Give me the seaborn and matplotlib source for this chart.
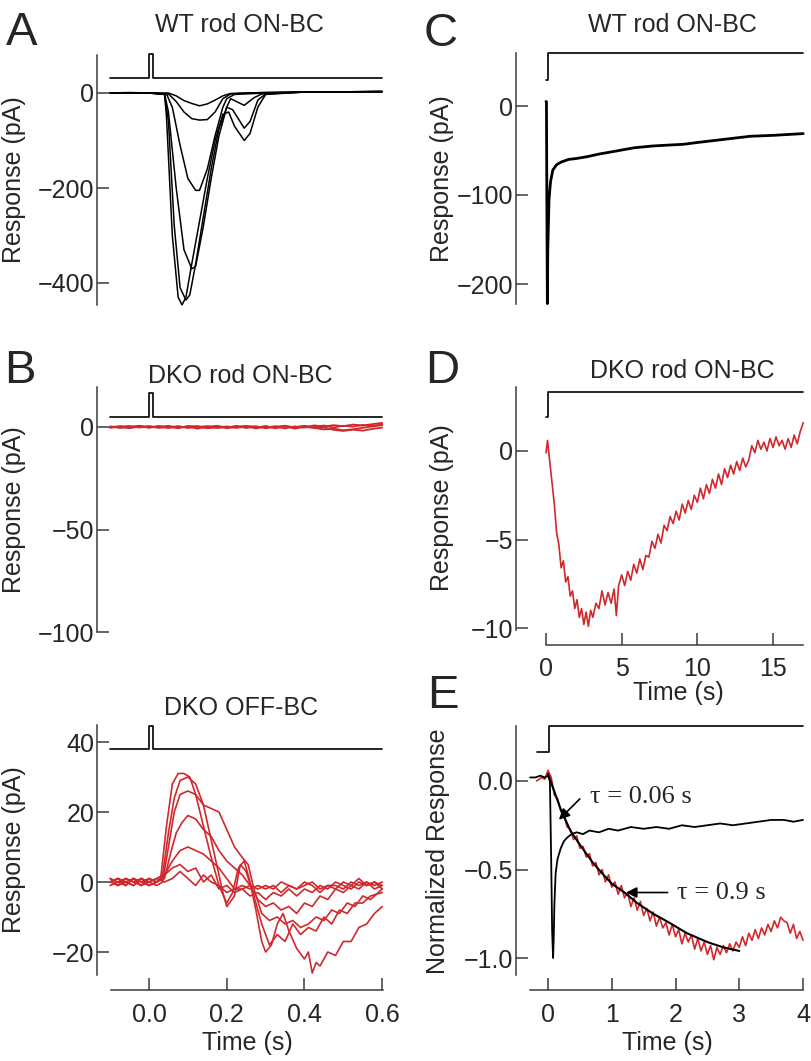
import numpy as np
import pandas as pd
import matplotlib
matplotlib.use('Agg')
import matplotlib.pyplot as plt
import seaborn as sns

W, H = 811, 1061
RED = '#d0282c'
AXC = '#3a3a3a'

# ---- Panel A: WT rod ON-BC flash responses (pA) ----
stim_t = [-0.1, 0.0, 0.0, 0.011, 0.011, 0.6]
a_stim = [32, 32, 82, 82, 32, 32]
a1_t = [-0.1, -0.05, 0.0, 0.05, 0.07, 0.09, 0.11, 0.13, 0.15, 0.17, 0.19, 0.21, 0.25, 0.3, 0.4, 0.5, 0.6]
a1_v = [0, 1, 0, 0, -6, -16, -22, -27, -23, -15, -6, -1, 0, 1, 2, 2, 3]
a2_t = [-0.1, 0.0, 0.05, 0.07, 0.09, 0.11, 0.13, 0.15, 0.17, 0.19, 0.21, 0.25, 0.3, 0.4, 0.6]
a2_v = [0, 0, -2, -18, -40, -54, -57, -56, -40, -12, -2, 0, 1, 2, 3]
a3_t = [-0.1, 0.0, 0.045, 0.06, 0.08, 0.1, 0.12, 0.13, 0.15, 0.17, 0.19, 0.2, 0.22, 0.3, 0.4, 0.6]
a3_v = [0, 0, -2, -30, -110, -180, -205, -205, -160, -90, -30, -12, -3, 0, 2, 3]
a4_t = [-0.1, 0.0, 0.04, 0.05, 0.07, 0.09, 0.11, 0.12, 0.14, 0.16, 0.18, 0.2, 0.21, 0.245, 0.27, 0.29, 0.32, 0.4, 0.6]
a4_v = [0, 0, -2, -40, -200, -330, -370, -365, -280, -180, -90, -30, -12, -26, -10, -2, 0, 2, 3]
a5_t = [-0.1, 0.0, 0.04, 0.05, 0.065, 0.08, 0.095, 0.105, 0.12, 0.14, 0.16, 0.18, 0.2, 0.215, 0.245, 0.26, 0.28, 0.3, 0.4, 0.6]
a5_v = [0, 0, -3, -60, -280, -410, -436, -425, -360, -260, -160, -75, -30, -35, -74, -60, -15, -2, 2, 3]
a6_t = [-0.1, 0.0, 0.04, 0.045, 0.06, 0.075, 0.085, 0.095, 0.11, 0.13, 0.15, 0.17, 0.19, 0.205, 0.22, 0.245, 0.26, 0.28, 0.3, 0.4, 0.6]
a6_v = [0, 0, -3, -50, -300, -430, -446, -430, -360, -270, -180, -100, -45, -40, -70, -100, -85, -30, -3, 2, 3]

# ---- Panel B (top): DKO rod ON-BC (pA) ----
b_stim = [4.9, 4.9, 16.6, 16.6, 4.9, 4.9]
bon_t = [-0.1, -0.075, -0.05, -0.025, 0.0, 0.025, 0.05, 0.075, 0.1, 0.125, 0.15, 0.175, 0.2, 0.225, 0.25,
         0.275, 0.3, 0.325, 0.35, 0.375, 0.4, 0.425, 0.45, 0.475, 0.5, 0.525, 0.55, 0.575, 0.6]
bon_1 = [0.0, 0.4, -0.3, 0.5, -0.2, 0.3, -0.5, 0.2, -0.1, 0.4, -0.6, -0.2, 0.3, -0.4, 0.1,
         -0.3, 0.5, -0.6, 0.2, -0.1, 0.6, -0.4, -1.2, -0.8, -1.6, -1.1, -0.4, 0.3, 0.9]
bon_2 = [-0.4, 0.2, 0.5, -0.3, 0.4, -0.2, 0.6, -0.4, 0.3, -0.8, 0.2, 0.5, -0.3, 0.6, -0.5,
         0.2, -0.2, 0.4, -0.7, 0.3, -0.3, 0.8, 0.2, 0.9, 0.4, 1.2, 0.7, 1.4, 2.0]
bon_3 = [0.3, -0.5, 0.1, 0.6, -0.4, 0.5, 0.1, -0.6, 0.5, 0.2, -0.4, 0.6, -0.6, 0.1, 0.5,
         -0.7, 0.2, -0.3, 0.4, -0.8, 0.1, -0.5, -0.2, -1.4, -1.9, -1.3, -1.8, -0.9, -0.3]
bon_4 = [-0.2, 0.1, -0.6, 0.2, 0.3, -0.4, -0.1, 0.4, -0.5, 0.1, 0.4, -0.5, 0.0, -0.2, 0.4,
         0.3, -0.6, 0.1, 0.6, -0.2, 0.3, 0.1, 0.7, -0.2, 0.6, 0.2, 1.0, 0.5, 1.3]

# ---- Panel B (bottom): DKO OFF-BC (pA) ----
off_stim = [37.9, 37.9, 44.5, 44.5, 37.9, 37.9]
p1_t = [-0.1, -0.08, -0.06, -0.04, -0.02, 0.0, 0.02, 0.03, 0.045, 0.06, 0.075, 0.09, 0.105, 0.12, 0.14, 0.16,
        0.18, 0.2, 0.215, 0.23, 0.245, 0.26, 0.275, 0.29, 0.3, 0.315, 0.33, 0.345, 0.36, 0.38, 0.4, 0.41,
        0.42, 0.43, 0.44, 0.46, 0.48, 0.5, 0.52, 0.54, 0.56, 0.58, 0.6]
p1_v = [0, 1, -1, 1, 0, -1, 0, 1, 16, 28, 31, 31, 30, 25, 16, 7, -1, -6, -3, 4, 6, 0, -8, -17, -20, -18,
        -12, -9, -14, -19, -22, -20, -26, -23, -24, -20, -21, -17, -17, -13, -12, -9, -7]
p2_t = [-0.1, -0.08, -0.06, -0.04, -0.02, 0.0, 0.02, 0.035, 0.05, 0.065, 0.08, 0.1, 0.12, 0.14, 0.16, 0.18,
        0.19, 0.2, 0.22, 0.235, 0.25, 0.27, 0.29, 0.31, 0.33, 0.35, 0.37, 0.39, 0.41, 0.43, 0.45, 0.47, 0.49,
        0.51, 0.53, 0.55, 0.57, 0.6]
p2_v = [1, -1, 0, 1, -1, 0, 1, 2, 14, 24, 29, 30, 28, 22, 12, 2, -3, -7, -4, 5, 3, -4, -12, -18, -15, -17,
        -12, -15, -13, -14, -10, -12, -8, -9, -6, -6, -4, -3]
p3_t = [-0.1, -0.08, -0.06, -0.04, -0.02, 0.0, 0.02, 0.035, 0.05, 0.065, 0.08, 0.1, 0.12, 0.14, 0.16, 0.18,
        0.2, 0.22, 0.24, 0.255, 0.27, 0.29, 0.31, 0.33, 0.35, 0.37, 0.39, 0.41, 0.43, 0.45, 0.47, 0.49, 0.51,
        0.53, 0.55, 0.57, 0.6]
p3_v = [0, 1, 0, -1, 1, 0, -1, 0, 10, 20, 25, 26, 25, 22, 21, 20, 15, 10, 7, 5, -2, -9, -11, -10, -12, -11,
        -13, -12, -10, -11, -8, -9, -6, -7, -4, -5, -2]
p4_t = [-0.1, -0.08, -0.06, -0.04, -0.02, 0.0, 0.02, 0.04, 0.055, 0.07, 0.085, 0.1, 0.12, 0.14, 0.16, 0.18,
        0.2, 0.22, 0.24, 0.26, 0.28, 0.3, 0.32, 0.34, 0.36, 0.38, 0.4, 0.42, 0.44, 0.46, 0.48, 0.5, 0.52,
        0.54, 0.56, 0.58, 0.6]
p4_v = [-1, 0, 1, 0, -1, 1, 0, 1, 8, 14, 17, 19, 18, 15, 13, 9, 6, 4, 2, -1, -5, -7, -6, -8, -7, -9, -6,
        -7, -4, -5, -2, -3, -1, -2, 0, -2, -1]
p5_t = [-0.1, -0.08, -0.06, -0.04, -0.02, 0.0, 0.02, 0.04, 0.06, 0.08, 0.1, 0.12, 0.14, 0.16, 0.18, 0.2,
        0.22, 0.24, 0.26, 0.28, 0.3, 0.32, 0.34, 0.36, 0.38, 0.4, 0.42, 0.44, 0.46, 0.48, 0.5, 0.52, 0.54,
        0.56, 0.58, 0.6]
p5_v = [0, -1, 1, 0, 1, -1, 0, 2, 6, 9, 10, 9, 8, 6, 4, 1, -2, -2, -4, -3, -5, -3, -4, -2, -4, -2, -3, -1,
        -2, 0, -1, -2, 0, -1, 0, -1]
p6_v = [1, 0, -1, 1, 0, 1, 0, 2, 4, 5, 3, 4, 0, 2, -2, -1, -3, -2, -1, -2, -1, -2, 0, -1, -2, 0, -1, -3,
        -1, -2, 0, -1, 1, -1, 0, -2]
p7_v = [0, 1, 0, -1, 1, 0, 1, 0, 1, 3, 1, -1, 2, 0, -1, -3, -2, -1, -2, -1, -2, -1, -3, -1, -2, -1, 0,
        -2, -1, -1, -2, 0, -1, 0, -1, 0]

# ---- Panel C: WT rod ON-BC, long step (pA) ----
step_t = [0.0, 0.13, 0.13, 17.0]
c_stim = [29, 29, 59, 59]
c_t = [0.0, 0.03, 0.06, 0.09, 0.12, 0.2, 0.3, 0.45, 0.7, 1.0, 1.5, 2.0, 2.7, 3.5, 4.5, 5.8, 7.0, 8.0,
       9.1, 10.0, 11.0, 12.0, 13.5, 15.0, 16.0, 17.0]
c_v = [5, 5, -120, -222, -160, -105, -85, -72, -66, -63, -60, -59, -57, -54, -51, -47, -45, -44,
       -43, -41, -39, -37, -34, -33, -32, -31]

# ---- Panel D: DKO rod ON-BC, long step (pA) ----
d_stim = [1.9, 1.9, 3.33, 3.33]
d_t = [0.0, 0.1, 0.25, 0.4, 0.55, 0.7, 0.85, 1.0, 1.15, 1.3, 1.45, 1.6, 1.75, 1.9, 2.05, 2.2, 2.35, 2.5,
       2.65, 2.8, 2.95, 3.1, 3.3, 3.5, 3.7, 3.9, 4.1, 4.3, 4.5, 4.65, 4.8, 5.0, 5.2, 5.4, 5.6, 5.8, 6.0,
       6.2, 6.4, 6.6, 6.8, 7.0, 7.2, 7.4, 7.6, 7.8, 8.0, 8.2, 8.4, 8.6, 8.8, 9.0, 9.2, 9.4, 9.6, 9.8,
       10.0, 10.2, 10.4, 10.6, 10.8, 11.0, 11.2, 11.4, 11.6, 11.8, 12.0, 12.2, 12.4, 12.6, 12.8, 13.0,
       13.2, 13.4, 13.6, 13.8, 14.0, 14.2, 14.4, 14.6, 14.8, 15.0, 15.2, 15.4, 15.6, 15.8, 16.0, 16.2,
       16.4, 16.6, 16.8, 17.0]
d_v = [-0.1, 0.6, -0.6, -1.8, -3.0, -4.6, -5.3, -6.6, -6.2, -7.4, -7.1, -8.2, -7.9, -8.9, -8.4, -9.4,
       -8.9, -9.8, -9.1, -9.9, -9.0, -9.4, -8.6, -8.9, -7.9, -8.7, -8.0, -8.6, -7.8, -9.3, -7.6, -7.0,
       -7.6, -6.8, -7.3, -6.4, -6.9, -6.1, -6.7, -5.9, -6.0, -5.1, -5.5, -4.7, -5.2, -4.2, -4.5, -3.7,
       -4.1, -3.4, -3.9, -3.0, -3.5, -2.8, -3.3, -2.5, -2.9, -2.1, -2.7, -1.9, -2.4, -1.6, -2.1, -1.3,
       -1.9, -1.0, -1.5, -0.8, -1.3, -0.6, -1.1, -0.4, -0.9, -0.5, 0.3, -0.1, 0.6, 0.1, 0.5, 0.0, 0.7,
       0.2, 0.8, 0.3, 0.6, 0.1, 0.7, 0.2, 0.9, 0.4, 1.1, 1.6]

# ---- Panel E: normalized responses ----
e_stim_t = [-0.17, 0.02, 0.02, 4.0]
e_stim = [0.164, 0.164, 0.31, 0.31]
ewt_t = [-0.28, -0.2, -0.12, -0.05, 0.0, 0.03, 0.05, 0.065, 0.08, 0.09, 0.1, 0.12, 0.15, 0.2, 0.25, 0.3,
         0.37, 0.45, 0.55, 0.65, 0.8, 0.95, 1.1, 1.3, 1.5, 1.7, 1.9, 2.1, 2.3, 2.5, 2.7, 2.9, 3.1, 3.3,
         3.5, 3.7, 3.85, 4.0]
ewt_v = [0.02, 0.02, 0.03, 0.02, 0.03, 0.0, -0.45, -0.85, -1.0, -0.88, -0.7, -0.52, -0.44, -0.38, -0.34,
         -0.32, -0.3, -0.29, -0.3, -0.28, -0.29, -0.27, -0.28, -0.26, -0.27, -0.26, -0.27, -0.25, -0.26,
         -0.25, -0.24, -0.25, -0.24, -0.23, -0.22, -0.22, -0.23, -0.22]
edko_t = [-0.18, -0.1, -0.05, 0.0, 0.05, 0.1, 0.15, 0.2, 0.25, 0.3, 0.35, 0.4, 0.45, 0.5, 0.55, 0.6, 0.65,
          0.7, 0.75, 0.8, 0.85, 0.9, 0.95, 1.0, 1.05, 1.1, 1.15, 1.2, 1.25, 1.3, 1.35, 1.4, 1.45, 1.5,
          1.55, 1.6, 1.65, 1.7, 1.75, 1.8, 1.85, 1.9, 1.95, 2.0, 2.05, 2.1, 2.15, 2.2, 2.25, 2.3, 2.35,
          2.4, 2.45, 2.5, 2.55, 2.6, 2.65, 2.7, 2.75, 2.8, 2.85, 2.9, 2.95, 3.0, 3.05, 3.1, 3.15, 3.2,
          3.25, 3.3, 3.35, 3.4, 3.45, 3.5, 3.55, 3.6, 3.65, 3.7, 3.75, 3.8, 3.85, 3.9, 3.95, 4.0]
edko_v = [0.0, 0.02, 0.01, 0.06, 0.02, -0.08, -0.1, -0.17, -0.19, -0.26, -0.27, -0.33, -0.31, -0.38,
          -0.37, -0.43, -0.41, -0.48, -0.46, -0.53, -0.5, -0.57, -0.53, -0.6, -0.57, -0.64, -0.59, -0.66,
          -0.63, -0.71, -0.66, -0.73, -0.68, -0.76, -0.72, -0.79, -0.74, -0.82, -0.77, -0.83, -0.8,
          -0.87, -0.81, -0.88, -0.84, -0.92, -0.86, -0.91, -0.87, -0.95, -0.89, -0.96, -0.91, -0.98,
          -0.93, -1.01, -0.94, -0.98, -0.93, -0.97, -0.92, -0.96, -0.91, -0.94, -0.88, -0.93, -0.86,
          -0.9, -0.84, -0.89, -0.83, -0.87, -0.81, -0.85, -0.79, -0.83, -0.77, -0.79, -0.8, -0.86,
          -0.81, -0.89, -0.85, -0.9]
fit_t = [0.0, 0.1, 0.2, 0.35, 0.5, 0.7, 0.87, 1.0, 1.2, 1.4, 1.65, 1.9, 2.18, 2.5, 2.75, 3.0]
fit_v = [0.04, -0.06, -0.16, -0.28, -0.36, -0.46, -0.53, -0.58, -0.63, -0.69, -0.75, -0.8, -0.86,
         -0.91, -0.94, -0.96]


def traces(pairs):
    frames = []
    for i, (t, v) in enumerate(pairs):
        frames.append(pd.DataFrame({'t': t, 'v': v, 'trace': i}))
    return pd.concat(frames, ignore_index=True)


def draw(ax, t, v, color, lw):
    sns.lineplot(x=t, y=v, ax=ax, color=color, lw=lw, sort=False, estimator=None, clip_on=False)


def lin(p, ref):
    (pa, va), (pb, vb) = ref
    return va + (p - pa) * (vb - va) / (pb - pa)


def minus(labels):
    return [s.replace('-', '\u2212') for s in labels]


sns.set_style('ticks')
plt.rcParams['font.family'] = ['Liberation Sans', 'DejaVu Sans']
fig = plt.figure(figsize=(W / 100, H / 100), dpi=100)


def panel(box, xref, yref, yspan, yticks, ylabels, xspan=None, xticks=None, xlabels=None):
    left, right, top, bottom = box
    ax = fig.add_axes([left / W, 1 - bottom / H, (right - left) / W, (bottom - top) / H])
    ax.set_xlim(lin(left, xref), lin(right, xref))
    ax.set_ylim(lin(bottom, yref), lin(top, yref))
    ax.patch.set_alpha(0)
    for s in ['top', 'right']:
        ax.spines[s].set_visible(False)
    ax.spines['left'].set_bounds(lin(yspan[1], yref), lin(yspan[0], yref))
    ax.set_yticks(yticks, minus(ylabels))
    if xspan is None:
        ax.spines['bottom'].set_visible(False)
        ax.set_xticks([])
    else:
        ax.spines['bottom'].set_bounds(lin(xspan[0], xref), lin(xspan[1], xref))
        ax.set_xticks(xticks, xlabels)
    for s in ['left', 'bottom']:
        ax.spines[s].set_linewidth(1.1)
        ax.spines[s].set_color(AXC)
    ax.tick_params(direction='in', length=8.5, width=1.1, color=AXC, labelsize=18)
    ax.tick_params(axis='y', pad=2)
    ax.tick_params(axis='x', pad=9)
    return ax


def ftext(x, y, s, **kw):
    fig.text(x / W, 1 - y / H, s, **kw)


fast_x = ((149, 0.0), (382.2, 0.6))
slow_x = ((546, 0.0), (773, 15.0))

# A
axA = panel((97, 386, 52, 306), fast_x, ((93, 0), (283, -400)), (55, 305),
            [0, -200, -400], ['0', '-200', '-400'])
dfA = traces([(a1_t, a1_v), (a2_t, a2_v), (a3_t, a3_v), (a4_t, a4_v), (a5_t, a5_v), (a6_t, a6_v)])
sns.lineplot(data=dfA, x='t', y='v', units='trace', estimator=None, sort=False, color='black',
             lw=1.1, ax=axA, legend=False)
draw(axA, stim_t, a_stim, 'black', 1.2)

# B top
axB1 = panel((97, 386, 384, 634), fast_x, ((427, 0), (632, -100)), (387, 632),
             [0, -50, -100], ['0', '-50', '-100'])
dfB1 = traces([(bon_t, bon_1), (bon_t, bon_2), (bon_t, bon_3), (bon_t, bon_4)])
sns.lineplot(data=dfB1, x='t', y='v', units='trace', estimator=None, sort=False, color=RED,
             lw=1.3, ax=axB1, legend=False)
draw(axB1, stim_t, b_stim, 'black', 1.2)

# B bottom
axB2 = panel((97, 386, 722, 990), fast_x, ((882, 0), (952, -20)), (725, 975),
             [40, 20, 0, -20], ['40', '20', '0', '-20'],
             xspan=(111, 383), xticks=[0.0, 0.2, 0.4, 0.6], xlabels=['0.0', '0.2', '0.4', '0.6'])
dfB2 = traces([(p1_t, p1_v), (p2_t, p2_v), (p3_t, p3_v), (p4_t, p4_v), (p5_t, p5_v),
               (p5_t, p6_v), (p5_t, p7_v)])
sns.lineplot(data=dfB2, x='t', y='v', units='trace', estimator=None, sort=False, color=RED,
             lw=1.2, ax=axB2, legend=False)
draw(axB2, stim_t, off_stim, 'black', 1.2)

# C
axC = panel((516, 806, 50, 306), slow_x, ((106, 0), (284, -200)), (53, 304),
            [0, -100, -200], ['0', '-100', '-200'])
draw(axC, c_t, c_v, 'black', 2.0)
draw(axC, step_t, c_stim, 'black', 1.2)

# D
axD = panel((516, 806, 384, 645), slow_x, ((451, 0), (628, -10)), (387, 630),
            [0, -5, -10], ['0', '-5', '-10'],
            xspan=(546, 803), xticks=[0, 5, 10, 15], xlabels=['0', '5', '10', '15'])
draw(axD, d_t, d_v, RED, 1.2)
draw(axD, step_t, d_stim, 'black', 1.2)

# E
axE = panel((516, 806, 722, 990), ((548, 0.0), (803, 4.0)), ((781, 0), (958, -1.0)), (726, 975),
            [0.0, -0.5, -1.0], ['0.0', '-0.5', '-1.0'],
            xspan=(530, 803), xticks=[0, 1, 2, 3, 4], xlabels=['0', '1', '2', '3', '4'])
draw(axE, edko_t, edko_v, RED, 1.2)
draw(axE, ewt_t, ewt_v, 'black', 1.3)
draw(axE, fit_t, fit_v, 'black', 1.5)
draw(axE, e_stim_t, e_stim, 'black', 1.2)
serif = ['Liberation Serif', 'DejaVu Serif']
axE.annotate('', xy=(0.14, -0.23), xytext=(0.53, -0.09),
             arrowprops=dict(arrowstyle='-|>', color='black', lw=1.2, mutation_scale=16))
axE.text(0.66, -0.09, '\u03c4 = 0.06 s', family=serif, fontsize=19, va='center', ha='left')
axE.annotate('', xy=(1.18, -0.63), xytext=(1.92, -0.63),
             arrowprops=dict(arrowstyle='-|>', color='black', lw=1.2, mutation_scale=16))
axE.text(2.03, -0.63, '\u03c4 = 0.9 s', family=serif, fontsize=19, va='center', ha='left')

# seaborn fills in axis labels from the data; the figure draws its own
for ax in [axA, axB1, axB2, axC, axD, axE]:
    ax.set_xlabel('')
    ax.set_ylabel('')

# titles, labels, panel letters
for x, y, s in [(239, 32, 'WT rod ON-BC'), (672, 32, 'WT rod ON-BC'), (240, 383, 'DKO rod ON-BC'),
                (682, 378, 'DKO rod ON-BC'), (241, 715, 'DKO OFF-BC')]:
    ftext(x, y, s, fontsize=18, ha='center', va='baseline')
for x, y, s in [(14, 180, 'Response (pA)'), (14, 510, 'Response (pA)'), (14, 850, 'Response (pA)'),
                (442, 179, 'Response (pA)'), (442, 508, 'Response (pA)'), (438, 851, 'Normalized Response')]:
    ftext(x, y, s, fontsize=18, ha='center', va='center', rotation=90)
for x, y in [(247, 1043), (678, 693), (667, 1043)]:
    ftext(x, y, 'Time (s)', fontsize=18, ha='center', va='center')
for x, y, s in [(6, 45, 'A'), (4, 383, 'B'), (424, 46, 'C'), (425, 383, 'D'), (427, 708, 'E')]:
    ftext(x, y, s, fontsize=34, ha='left', va='baseline')

fig.savefig('out.png', dpi=100)
